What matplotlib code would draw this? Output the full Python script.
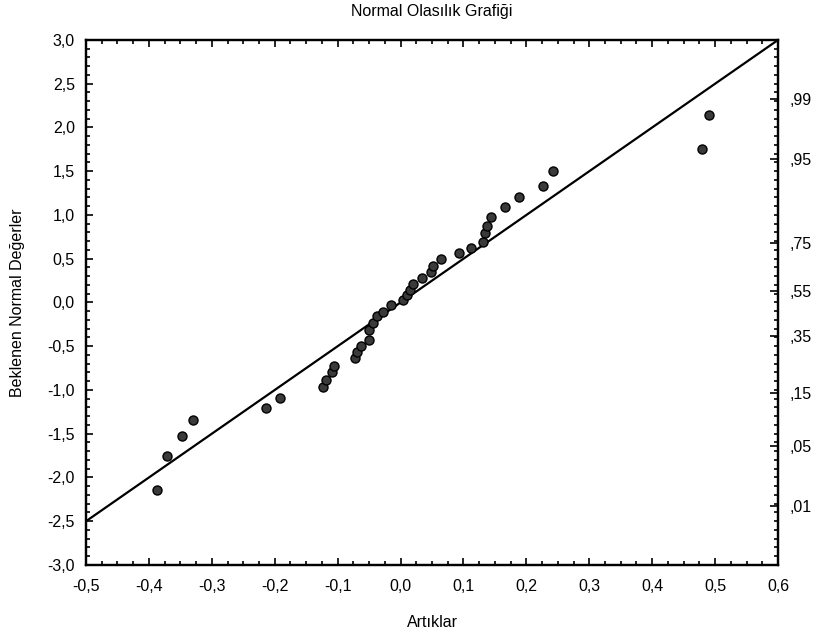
import statistics

import matplotlib
matplotlib.use("Agg")
import matplotlib.pyplot as plt
from matplotlib.ticker import MultipleLocator, FuncFormatter

plt.rcParams["font.family"] = ["Liberation Sans", "DejaVu Sans"]

# residuals (x) and expected normal values (y)
residuals = [
    -0.387, -0.371, -0.347, -0.330, -0.214, -0.192, -0.123, -0.118, -0.109, -0.106,
    -0.072, -0.069, -0.063, -0.050, -0.050, -0.044, -0.037, -0.028, -0.015, 0.004,
    0.010, 0.015, 0.020, 0.034, 0.048, 0.052, 0.064, 0.093, 0.112, 0.131,
    0.134, 0.138, 0.144, 0.166, 0.188, 0.227, 0.242, 0.479, 0.490,
]
expected = [
    -2.14, -1.75, -1.53, -1.34, -1.21, -1.09, -0.97, -0.89, -0.79, -0.73,
    -0.63, -0.57, -0.50, -0.43, -0.31, -0.23, -0.15, -0.11, -0.03, 0.03,
    0.09, 0.14, 0.21, 0.28, 0.35, 0.42, 0.50, 0.57, 0.62, 0.69,
    0.79, 0.87, 0.98, 1.09, 1.21, 1.33, 1.50, 1.75, 2.14,
]
line_x = [-0.5, 0.6]
line_slope = 5.0
probabilities = [0.01, 0.05, 0.15, 0.35, 0.55, 0.75, 0.95, 0.99]
prob_labels = [",01", ",05", ",15", ",35", ",55", ",75", ",95", ",99"]

fig = plt.figure(figsize=(8.16, 6.41), dpi=100)
ax = fig.add_axes([0.1054, 0.1186, 0.848, 0.819])

ax.plot(line_x, [line_slope * v for v in line_x], color="black", lw=1.6, zorder=2)
ax.plot(residuals, expected, "o", ms=6.5, mfc="#3a3a3a", mec="black", mew=1.0, zorder=3)

ax.set_xlim(-0.5, 0.6)
ax.set_ylim(-3.0, 3.0)
ax.xaxis.set_major_locator(MultipleLocator(0.1))
ax.xaxis.set_minor_locator(MultipleLocator(0.025))
ax.yaxis.set_major_locator(MultipleLocator(0.5))
ax.yaxis.set_minor_locator(MultipleLocator(0.1))
comma = FuncFormatter(lambda v, pos: f"{v:.1f}".replace(".", ",").replace("-0,0", "0,0"))
ax.xaxis.set_major_formatter(comma)
ax.yaxis.set_major_formatter(comma)
ax.tick_params(which="both", direction="in", top=True, right=False, width=1.2, labelsize=11.5)
ax.tick_params(axis="x", pad=10)
ax.tick_params(axis="y", pad=8)
ax.tick_params(which="major", length=5)
ax.tick_params(which="minor", length=3)
for sp in ax.spines.values():
    sp.set_linewidth(1.6)

ax2 = ax.twinx()
ax2.set_ylim(ax.get_ylim())
nd = statistics.NormalDist()
ax2.set_yticks([nd.inv_cdf(p) for p in probabilities])
ax2.set_yticklabels(prob_labels)
ax2.yaxis.set_minor_locator(MultipleLocator(0.1))
ax2.tick_params(which="both", direction="in", width=1.2, labelsize=11.5, pad=8)
ax2.tick_params(which="major", length=6)
ax2.tick_params(which="minor", length=3)
for sp in ax2.spines.values():
    sp.set_linewidth(1.6)

ax.set_title("Normal Olasılık Grafiği", fontsize=11.5, pad=17)
ax.set_xlabel("Artıklar", fontsize=11.5, labelpad=15)
ax.set_ylabel("Beklenen Normal Değerler", fontsize=11.5, labelpad=16)

fig.savefig("out.png", dpi=100)
